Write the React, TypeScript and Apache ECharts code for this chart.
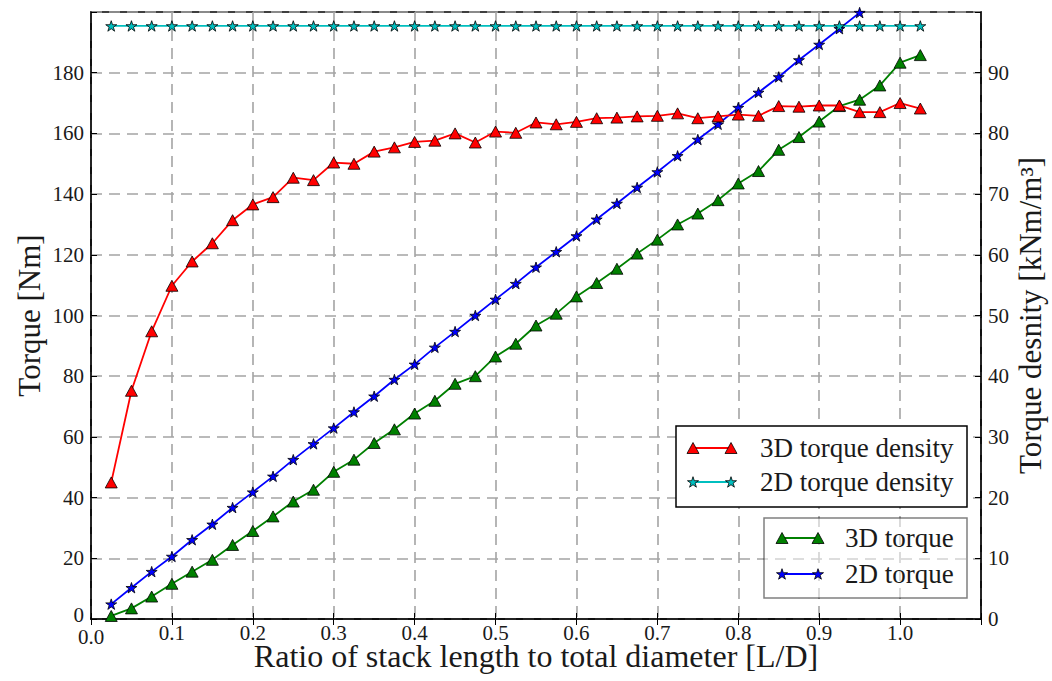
import React, { useEffect, useRef } from 'react';
import * as echarts from 'echarts';

// ---- data ----
const xValues = [
  0.025, 0.05, 0.075, 0.1, 0.125, 0.15, 0.175, 0.2, 0.225, 0.25,
  0.275, 0.3, 0.325, 0.35, 0.375, 0.4, 0.425, 0.45, 0.475, 0.5,
  0.525, 0.55, 0.575, 0.6, 0.625, 0.65, 0.675, 0.7, 0.725, 0.75,
  0.775, 0.8, 0.825, 0.85, 0.875, 0.9, 0.925, 0.95, 0.975, 1.0, 1.025,
];

// 3D torque [Nm] (left axis)
const torque3D = [
  1.0, 3.5, 7.4, 11.6, 15.6, 19.5, 24.4, 29.0, 33.8, 38.7,
  42.6, 48.5, 52.5, 58.0, 62.5, 67.7, 71.9, 77.5, 80.0, 86.5,
  90.7, 96.7, 100.6, 106.3, 110.7, 115.4, 120.4, 125.0, 130.0, 133.6,
  138.0, 143.5, 147.6, 154.6, 158.8, 163.9, 169.0, 171.1, 175.8, 183.3, 185.8,
];

// 2D torque [Nm] (left axis) – visible up to x = 0.95
const torque2D = [
  4.9, 10.3, 15.6, 20.6, 26.1, 31.2, 36.7, 41.8, 47.0, 52.5,
  57.7, 62.9, 68.2, 73.4, 78.9, 83.9, 89.5, 94.7, 100.0, 105.3,
  110.5, 115.9, 121.0, 126.2, 131.7, 136.9, 142.2, 147.3, 152.6, 158.0,
  163.0, 168.5, 173.5, 178.6, 184.2, 189.3, 194.5, 199.8,
];

// 3D torque density [kNm/m^3] (right axis)
const density3D = [
  22.5, 37.6, 47.4, 54.9, 58.9, 61.9, 65.7, 68.3, 69.5, 72.7,
  72.3, 75.2, 75.0, 77.0, 77.7, 78.6, 78.8, 80.0, 78.5, 80.3,
  80.1, 81.8, 81.5, 81.9, 82.5, 82.6, 82.8, 82.9, 83.3, 82.5,
  82.8, 83.1, 82.9, 84.5, 84.4, 84.6, 84.6, 83.5, 83.5, 85.0, 84.1,
];

// 2D torque density [kNm/m^3] (right axis)
const density2D = [
  97.7, 97.7, 97.7, 97.7, 97.7, 97.7, 97.7, 97.7, 97.7, 97.7,
  97.7, 97.7, 97.7, 97.7, 97.7, 97.7, 97.7, 97.7, 97.7, 97.7,
  97.7, 97.7, 97.7, 97.7, 97.7, 97.7, 97.7, 97.7, 97.7, 97.7,
  97.7, 97.7, 97.7, 97.7, 97.7, 97.7, 97.7, 97.7, 97.7, 97.7, 97.7,
];

const seriesNames = ['3D torque', '2D torque', '3D torque density', '2D torque density'];
const xAxisName = 'Ratio of stack length to total diameter [L/D]';
const yLeftName = 'Torque [Nm]';
const yRightName = 'Torque desnity [kNm/m\u00B3]';

// ---- styling ----
const FONT = 'Liberation Serif';
const TEXT = '#1a1a1a';
const RED = '#ff0000';
const GREEN = '#008000';
const BLUE = '#0000ff';
const CYAN = '#00bfbf';
const LW = 1.8;

function starPoints(cx: number, cy: number, r: number): number[][] {
  const pts: number[][] = [];
  for (let i = 0; i < 10; i++) {
    const a = -Math.PI / 2 + (i * Math.PI) / 5;
    const rr = i % 2 === 0 ? r : r * 0.382;
    pts.push([cx + rr * Math.cos(a), cy + rr * Math.sin(a)]);
  }
  return pts;
}
const STAR_PATH =
  'path://' +
  starPoints(0, 0, 10)
    .map((p, i) => (i ? 'L' : 'M') + p[0].toFixed(3) + ' ' + p[1].toFixed(3))
    .join(' ') +
  ' Z';

const pairs = (vals: number[]) => vals.map((v, i) => [xValues[i], v]);

function triPts(x: number, y: number): number[][] {
  return [
    [x - 6, y + 5.5],
    [x, y - 5.5],
    [x + 6, y + 5.5],
  ];
}

function legendRow(x1: number, x2: number, y: number, color: string, kind: 'tri' | 'star', label: string, tx: number) {
  const marker = (x: number) =>
    kind === 'tri'
      ? { type: 'polygon', z: 102, shape: { points: triPts(x, y) }, style: { fill: color, stroke: '#000', lineWidth: 0.8 } }
      : { type: 'polygon', z: 102, shape: { points: starPoints(x, y + 0.5, 5.8) }, style: { fill: color, stroke: '#000', lineWidth: 0.8 } };
  return [
    { type: 'line', z: 101, shape: { x1, y1: y, x2, y2: y }, style: { stroke: color, lineWidth: LW } },
    marker(x1),
    marker(x2),
    {
      type: 'text',
      z: 102,
      x: tx,
      y,
      style: {
        text: label,
        fill: TEXT,
        fontSize: 27,
        fontFamily: FONT,
        align: 'left',
        verticalAlign: 'middle',
      },
    },
  ];
}

export default function App() {
  const ref = useRef<HTMLDivElement>(null);

  useEffect(() => {
    if (!ref.current) return;
    const chart = echarts.init(ref.current, undefined, { renderer: 'svg' });

    const splitLine = { show: true, lineStyle: { color: '#a4a4a4', width: 1.6, type: [11, 7] } };
    const axisLine = { show: true, onZero: false, lineStyle: { color: '#000', width: 1.5 } };
    const axisTick = { show: true, inside: true, length: 6, lineStyle: { color: '#000', width: 1 } };
    const tickText = { fontSize: 21, lineHeight: 16, color: TEXT, fontFamily: FONT };

    const option: any = {
      animation: false,
      backgroundColor: '#ffffff',
      textStyle: { fontFamily: FONT },
      grid: {
        left: 91,
        top: 12,
        right: 71,
        bottom: 62,
        containLabel: false,
        outerBoundsMode: 'none',
        show: true,
        borderColor: '#000',
        borderWidth: 1.5,
        backgroundColor: 'transparent',
      },
      xAxis: [
        {
          type: 'value',
          min: 0,
          max: 1.1,
          interval: 0.1,
          position: 'bottom',
          name: xAxisName,
          nameLocation: 'middle',
          nameGap: 19,
          nameMoveOverlap: false,
          nameTextStyle: { fontSize: 32, lineHeight: 36, color: TEXT, fontFamily: FONT },
          axisLine,
          axisTick,
          axisLabel: {
            margin: 6,
            ...tickText,
            formatter: (v: number) => (v > 1.05 ? '' : v === 0 ? '{z|0.0}' : v.toFixed(1)),
            rich: { z: { ...tickText, padding: [8, 0, 0, 0] } },
          },
          splitLine,
        },
        {
          type: 'value',
          min: 0,
          max: 1.1,
          interval: 0.1,
          position: 'top',
          axisLine: { show: false },
          axisTick,
          axisLabel: { show: false },
          splitLine: { show: false },
        },
      ],
      yAxis: [
        {
          type: 'value',
          min: 0,
          max: 200,
          interval: 20,
          position: 'left',
          name: yLeftName,
          nameLocation: 'middle',
          nameRotate: 90,
          nameGap: 46,
          nameMoveOverlap: false,
          nameTextStyle: { fontSize: 31, color: TEXT, fontFamily: FONT },
          axisLine,
          axisTick,
          axisLabel: {
            margin: 7,
            ...tickText,
            formatter: (v: number) => (v >= 200 ? '' : v === 0 ? '{z|0}' : String(v)),
            rich: { z: { ...tickText, padding: [0, 0, 8, 0] } },
          },
          splitLine,
        },
        {
          type: 'value',
          min: 0,
          max: 100,
          interval: 10,
          position: 'right',
          name: yRightName,
          nameLocation: 'middle',
          nameRotate: 90,
          nameGap: 32,
          nameMoveOverlap: false,
          nameTextStyle: { fontSize: 31, lineHeight: 34, color: TEXT, fontFamily: FONT },
          axisLine,
          axisTick,
          axisLabel: {
            margin: 7,
            ...tickText,
            formatter: (v: number) => (v >= 100 ? '' : String(v)),
          },
          splitLine: { show: false },
        },
      ],
      series: [
        {
          name: seriesNames[0],
          type: 'line',
          xAxisIndex: 0,
          yAxisIndex: 0,
          data: pairs(torque3D),
          symbol: 'triangle',
          symbolSize: [12, 11],
          showSymbol: true,
          lineStyle: { color: GREEN, width: LW },
          itemStyle: { color: GREEN, borderColor: '#000', borderWidth: 0.8 },
          silent: true,
          z: 2,
        },
        {
          name: seriesNames[1],
          type: 'line',
          xAxisIndex: 0,
          yAxisIndex: 0,
          data: pairs(torque2D),
          symbol: STAR_PATH,
          symbolSize: [11, 10.5],
          showSymbol: true,
          lineStyle: { color: BLUE, width: LW },
          itemStyle: { color: BLUE, borderColor: '#000', borderWidth: 0.8 },
          silent: true,
          z: 3,
        },
        {
          name: seriesNames[2],
          type: 'line',
          xAxisIndex: 0,
          yAxisIndex: 1,
          data: pairs(density3D),
          symbol: 'triangle',
          symbolSize: [12, 11],
          showSymbol: true,
          lineStyle: { color: RED, width: LW },
          itemStyle: { color: RED, borderColor: '#000', borderWidth: 0.8 },
          silent: true,
          z: 4,
        },
        {
          name: seriesNames[3],
          type: 'line',
          xAxisIndex: 0,
          yAxisIndex: 1,
          data: pairs(density2D),
          symbol: STAR_PATH,
          symbolSize: [11, 10.5],
          showSymbol: true,
          lineStyle: { color: CYAN, width: LW },
          itemStyle: { color: CYAN, borderColor: '#000', borderWidth: 0.8 },
          silent: true,
          z: 5,
        },
      ],
      graphic: [
        {
          type: 'rect',
          z: 100,
          shape: { x: 676, y: 426, width: 291, height: 81 },
          style: { fill: '#ffffff', stroke: '#000', lineWidth: 1.5 },
        },
        ...legendRow(693, 731, 448, RED, 'tri', seriesNames[2], 760),
        ...legendRow(693, 731, 482, CYAN, 'star', seriesNames[3], 760),
        {
          type: 'rect',
          z: 100,
          shape: { x: 764, y: 518, width: 203, height: 80 },
          style: { fill: 'rgba(255,255,255,0.5)', stroke: 'rgba(0,0,0,0.5)', lineWidth: 1.5 },
        },
        ...legendRow(782, 818, 538, GREEN, 'tri', seriesNames[0], 845),
        ...legendRow(782, 818, 574, BLUE, 'star', seriesNames[1], 845),
      ],
    };

    chart.setOption(option);
    return () => {
      chart.dispose();
    };
  }, []);

  return (
    <div
      ref={ref}
      style={{ position: 'absolute', left: 0, top: 0, width: 1052, height: 681, background: '#fff' }}
    />
  );
}
